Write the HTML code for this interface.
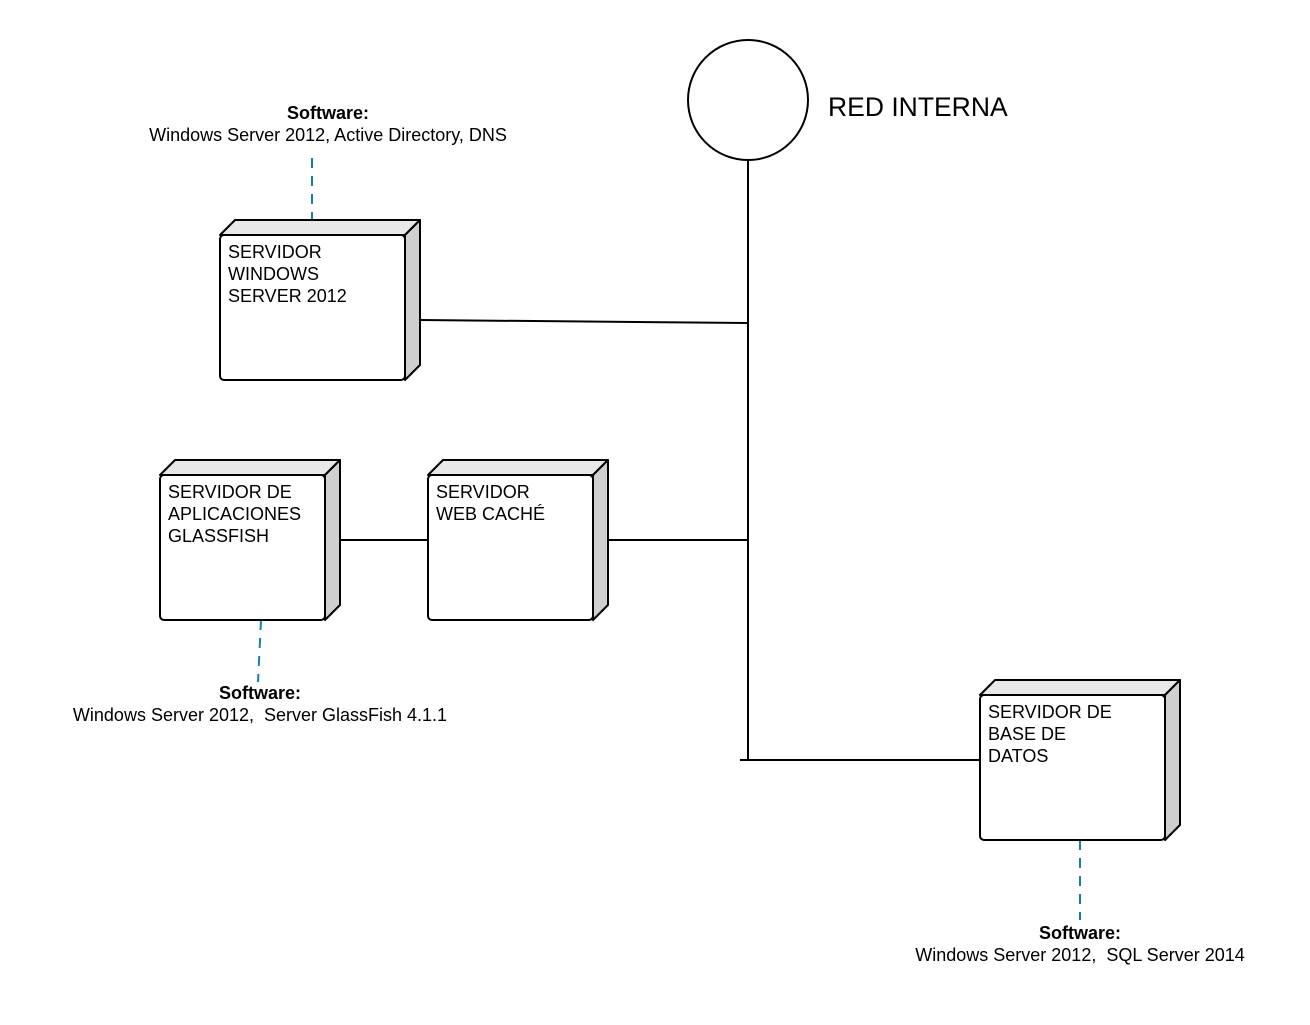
<!DOCTYPE html>
<html><head><meta charset="utf-8"><style>
html,body{margin:0;padding:0;background:#fff}
svg text{font-family:"Liberation Sans",sans-serif;white-space:pre}
</style></head><body>
<svg width="1310" height="1020" viewBox="0 0 1310 1020" xmlns="http://www.w3.org/2000/svg" xml:space="preserve">
<rect width="1310" height="1020" fill="#fff"/>
<g stroke="#000" stroke-width="2" fill="none">
<circle cx="748" cy="100" r="60" fill="#fff"/>
<line x1="748" y1="160" x2="748" y2="760"/>
<line x1="420" y1="320" x2="748" y2="323"/>
<line x1="608" y1="540" x2="748" y2="540"/>
<line x1="340" y1="540" x2="428" y2="540"/>
<line x1="740" y1="760" x2="980" y2="760"/>
</g>
<g stroke="#1a7fa8" stroke-width="2" stroke-dasharray="10,8" fill="none">
<line x1="312" y1="158" x2="312" y2="220"/>
<line x1="261" y1="620" x2="258" y2="682"/>
<line x1="1080" y1="840" x2="1080" y2="920"/>
</g>
<g stroke="#000" stroke-width="2" stroke-linejoin="round">
<polygon points="220,235 235,220 420,220 405,235" fill="#e8e8e8"/>
<polygon points="405,235 420,220 420,365 405,380" fill="#cfcfcf"/>
<rect x="220" y="235" width="185" height="145" rx="4" fill="#fff"/>
<polygon points="160,475 175,460 340,460 325,475" fill="#e8e8e8"/>
<polygon points="325,475 340,460 340,605 325,620" fill="#cfcfcf"/>
<rect x="160" y="475" width="165" height="145" rx="4" fill="#fff"/>
<polygon points="428,475 443,460 608,460 593,475" fill="#e8e8e8"/>
<polygon points="593,475 608,460 608,605 593,620" fill="#cfcfcf"/>
<rect x="428" y="475" width="165" height="145" rx="4" fill="#fff"/>
<polygon points="980,695 995,680 1180,680 1165,695" fill="#e8e8e8"/>
<polygon points="1165,695 1180,680 1180,825 1165,840" fill="#cfcfcf"/>
<rect x="980" y="695" width="185" height="145" rx="4" fill="#fff"/>
</g>
<g font-size="18" fill="#000">
<text x="228" y="258">SERVIDOR</text>
<text x="228" y="280">WINDOWS</text>
<text x="228" y="302">SERVER 2012</text>
<text x="168" y="498">SERVIDOR DE</text>
<text x="168" y="520">APLICACIONES</text>
<text x="168" y="542">GLASSFISH</text>
<text x="436" y="498">SERVIDOR</text>
<text x="436" y="520">WEB CACHÉ</text>
<text x="988" y="718">SERVIDOR DE</text>
<text x="988" y="740">BASE DE</text>
<text x="988" y="762">DATOS</text>
</g>
<text x="828" y="116" font-size="26.5">RED INTERNA</text>
<g font-size="18" text-anchor="middle">
<text x="328" y="119" font-weight="bold">Software:</text>
<text x="328" y="141">Windows Server 2012, Active Directory, DNS</text>
<text x="260" y="699" font-weight="bold">Software:</text>
<text x="260" y="721">Windows Server 2012,  Server GlassFish 4.1.1</text>
<text x="1080" y="939" font-weight="bold">Software:</text>
<text x="1080" y="961">Windows Server 2012,  SQL Server 2014</text>
</g>
</svg>
</body></html>
